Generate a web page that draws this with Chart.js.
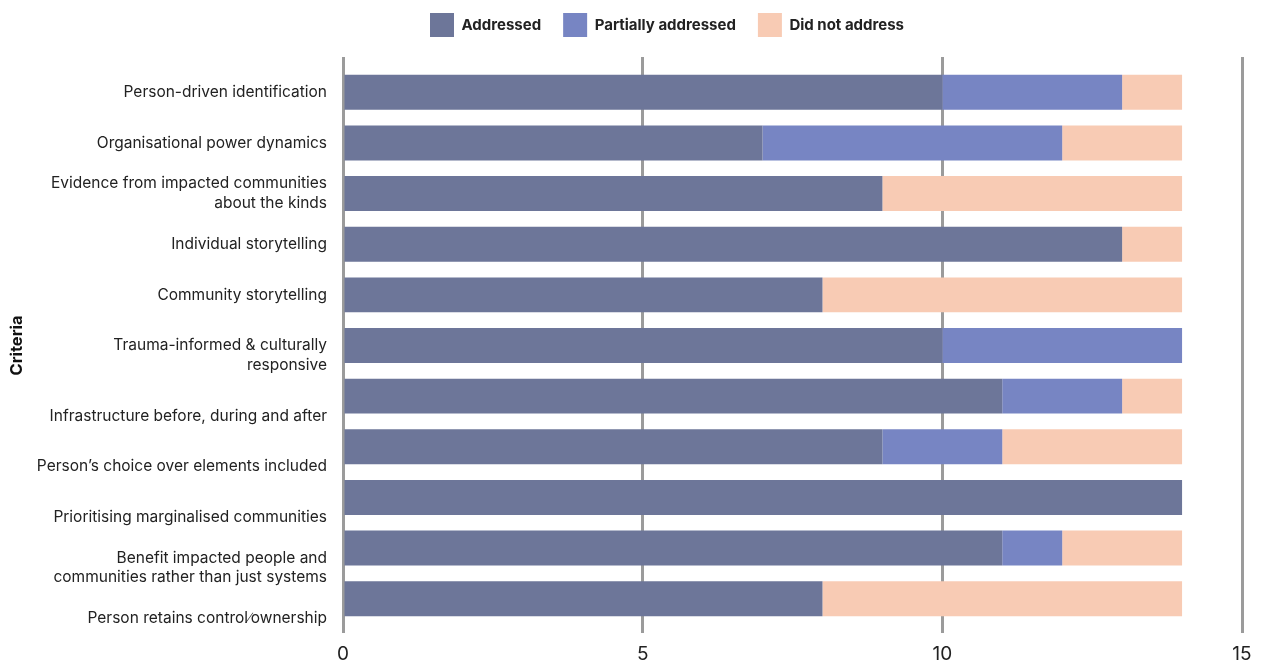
<!DOCTYPE html>
<html>
<head>
<meta charset="utf-8">
<script src="https://cdn.jsdelivr.net/npm/chart.js@4.4.1/dist/chart.umd.min.js"></script>
<style>
  html, body { margin: 0; padding: 0; background: #fff; overflow: hidden; }
  #wrap { width: 1262px; height: 664px; }
</style>
</head>
<body>
<div id="wrap"><canvas id="criteriaChart"></canvas></div>
<script>
// leading "" lines push the label down the way the original wraps them
const criteria = [
  "Person-driven identification",
  "Organisational power dynamics",
  ["Evidence from impacted communities", "about the kinds"],
  "Individual storytelling",
  "Community storytelling",
  ["", "Trauma-informed & culturally", "responsive"],
  ["", "", "Infrastructure before, during and after"],
  ["", "", "Person\u2019s choice over elements included"],
  ["", "", "Prioritising marginalised communities"],
  ["", "", "Benefit impacted people and", "communities rather than just systems"],
  ["", "", "Person retains control\u2215ownership"]
];

const addressed = [10, 7, 9, 13, 8, 10, 11, 9, 14, 11, 8];
const partiallyAddressed = [3, 5, 0, 0, 0, 4, 2, 2, 0, 1, 0];
const didNotAddress = [1, 2, 5, 1, 6, 0, 1, 3, 0, 2, 6];

const xTicks = [0, 5, 10, 15];

const gridStyle = {
  color: "#9b9b9b",
  lineWidth: 3
};

// nudge the legend to the right, like in the original
const legendShift = {
  id: "legendShift",
  afterLayout(chart) {
    chart.legend.left += 46;
    chart.legend.right += 46;
  }
};

new Chart(document.getElementById("criteriaChart"), {
  type: "bar",
  data: {
    labels: criteria,
    datasets: [
      { label: "Addressed", data: addressed, backgroundColor: "#6d7699" },
      { label: "Partially addressed", data: partiallyAddressed, backgroundColor: "#7785c3" },
      { label: "Did not address", data: didNotAddress, backgroundColor: "#f8cbb4" }
    ]
  },
  options: {
    indexAxis: "y",
    responsive: true,
    maintainAspectRatio: false,
    animation: false,
    barPercentage: 0.69,
    categoryPercentage: 1,
    layout: { padding: { top: -9, left: 0, right: 20, bottom: 0 } },
    plugins: {
      tooltip: { enabled: false },
      legend: {
        position: "top",
        labels: {
          boxWidth: 24,
          boxHeight: 24,
          padding: 22,
          color: "#222",
          font: { family: "Inter", size: 15, weight: "bold" }
        }
      }
    },
    scales: {
      x: {
        stacked: true,
        min: xTicks[0],
        max: xTicks[xTicks.length - 1],
        afterBuildTicks: s => { s.ticks = xTicks.map(v => ({ value: v })); },
        afterFit: s => { s.height = 40; },
        grid: { ...gridStyle, drawTicks: true, tickLength: 9 },
        border: { display: false },
        ticks: {
          padding: 10,
          color: "#222",
          font: { family: "Inter", size: 19 }
        }
      },
      xTop: {
        position: "top",
        min: xTicks[0],
        max: xTicks[xTicks.length - 1],
        afterBuildTicks: s => { s.ticks = xTicks.map(v => ({ value: v })); },
        afterFit: s => { s.height = 20; },
        grid: { ...gridStyle, drawTicks: true, tickLength: 10 },
        border: { display: false },
        ticks: { display: false }
      },
      y: {
        stacked: true,
        afterFit: s => { s.width = 343; },
        grid: { display: false, drawTicks: false },
        border: { display: false },
        ticks: {
          autoSkip: false,
          padding: 16,
          color: "#222",
          font: { family: "Inter", size: 15.5, lineHeight: 1.28 }
        },
        title: {
          display: true,
          text: "Criteria",
          color: "#111",
          padding: { top: 7, bottom: 20 },
          font: { family: "Inter", size: 16.5, weight: "bold" }
        }
      }
    }
  },
  plugins: [legendShift]
});
</script>
</body>
</html>
